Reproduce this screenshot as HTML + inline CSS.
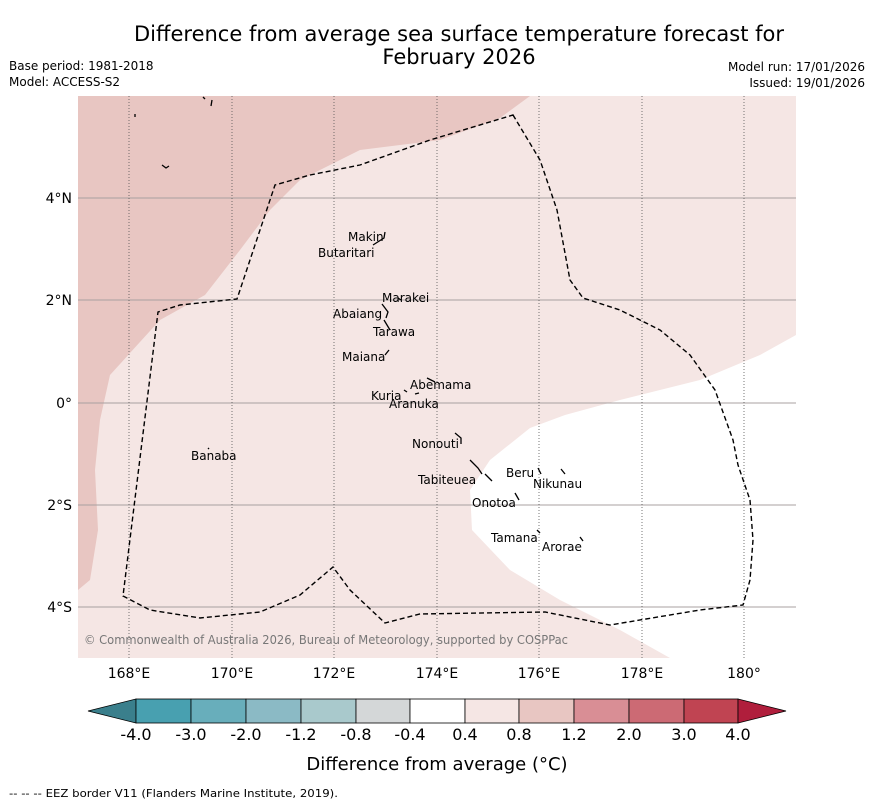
<!DOCTYPE html>
<html><head><meta charset="utf-8"><style>
body{margin:0;background:#fff;width:873px;height:804px;overflow:hidden;font-family:"Liberation Sans","DejaVu Sans",sans-serif}
</style></head><body>
<svg width="873" height="804" xmlns="http://www.w3.org/2000/svg" font-family="DejaVu Sans, Liberation Sans, sans-serif">
<text x="459" y="41" font-size="21" text-anchor="middle">Difference from average sea surface temperature forecast for</text>
<text x="459" y="64" font-size="21" text-anchor="middle">February 2026</text>
<text x="9" y="70" font-size="12">Base period: 1981-2018</text>
<text x="9" y="86" font-size="12">Model: ACCESS-S2</text>
<text x="865" y="71" font-size="12" text-anchor="end">Model run: 17/01/2026</text>
<text x="865" y="87" font-size="12" text-anchor="end">Issued: 19/01/2026</text>
<g>
<rect x="78" y="96" width="718" height="562" fill="#f5e6e4"/>
<path d="M78,96 L530,96 L500,118 L440,140 L360,150 L300,180 L270,210 L240,250 L205,295 L160,320 L110,375 L100,420 L95,470 L98,530 L90,580 L78,590 Z" fill="#e8c6c2"/>
<path d="M796,335 L760,355 L700,380 L620,400 L565,415 L530,428 L490,460 L470,490 L472,530 L510,570 L560,600 L620,630 L670,658 L796,658 Z" fill="#ffffff"/>
<g stroke="#a8a0a0" stroke-width="0.9">
<line x1="78" y1="198" x2="796" y2="198"/><line x1="78" y1="300" x2="796" y2="300"/><line x1="78" y1="403" x2="796" y2="403"/><line x1="78" y1="505" x2="796" y2="505"/><line x1="78" y1="607" x2="796" y2="607"/>
</g>
<g stroke="#555" stroke-width="0.8" stroke-dasharray="1,2">
<line x1="129" y1="96" x2="129" y2="658"/><line x1="232" y1="96" x2="232" y2="658"/><line x1="334" y1="96" x2="334" y2="658"/><line x1="437" y1="96" x2="437" y2="658"/><line x1="539" y1="96" x2="539" y2="658"/><line x1="642" y1="96" x2="642" y2="658"/><line x1="744" y1="96" x2="744" y2="658"/>
</g>
<path d="M513,115 L540,160 L557,210 L570,280 L583,298 L620,310 L660,330 L690,355 L715,390 L733,440 L738,465 L750,500 L753,540 L750,580 L743,605 L700,610 L610,625 L545,612 L420,614 L385,623 L350,590 L333,567 L300,595 L260,612 L200,618 L150,610 L123,596 L158,312 L180,305 L237,299 L275,185 L310,175 L360,165 L430,140 Z" fill="none" stroke="#000" stroke-width="1.4" stroke-dasharray="5,3"/>
<g stroke="#000" stroke-width="1.3" fill="none">
<path d="M373,245 L384,238 L385,232"/><path d="M382,304 L388,312 L386,318"/><path d="M384,320 L390,330"/><path d="M385,355 L389,350"/><path d="M427,378 L435,382"/><path d="M404,390 L407,392"/><path d="M415,394 L419,393"/><path d="M455,433 L461,438 L461,444"/><path d="M470,460 L478,468 L482,474"/><path d="M485,474 L492,481"/><path d="M538,468 L541,474"/><path d="M561,469 L565,474"/><path d="M515,493 L519,500"/><path d="M537,530 L540,533"/><path d="M580,537 L583,541"/><path d="M208,448 L209,449"/><path d="M203,97 L205,99"/><path d="M212,100 L211,106"/><path d="M135,114 L135,117"/><path d="M162,165 L166,168 L169,166"/><path d="M398,298 L401,300"/>
</g>
<g font-size="12" fill="#000">
<text x="348" y="241">Makin</text><text x="318" y="257">Butaritari</text><text x="382" y="302">Marakei</text><text x="333" y="318">Abaiang</text><text x="373" y="336">Tarawa</text><text x="342" y="361">Maiana</text><text x="410" y="389">Abemama</text><text x="371" y="400">Kuria</text><text x="389" y="408">Aranuka</text><text x="412" y="448">Nonouti</text><text x="191" y="460">Banaba</text><text x="506" y="477">Beru</text><text x="533" y="488">Nikunau</text><text x="418" y="484">Tabiteuea</text><text x="472" y="507">Onotoa</text><text x="491" y="542">Tamana</text><text x="542" y="551">Arorae</text>
</g>
<text x="84" y="644" font-size="12" fill="#777" textLength="484" lengthAdjust="spacingAndGlyphs">© Commonwealth of Australia 2026, Bureau of Meteorology, supported by COSPPac</text>
</g>
<g font-size="14" text-anchor="end">
<text x="72" y="203">4°N</text><text x="72" y="305">2°N</text><text x="72" y="408">0°</text><text x="72" y="510">2°S</text><text x="72" y="612">4°S</text>
</g>
<g font-size="14" text-anchor="middle">
<text x="129" y="678">168°E</text><text x="232" y="678">170°E</text><text x="334" y="678">172°E</text><text x="437" y="678">174°E</text><text x="539" y="678">176°E</text><text x="642" y="678">178°E</text><text x="744" y="678">180°</text>
</g>
<g stroke="#000" stroke-width="0.8">
<polygon points="88,711 136,699 136,723" fill="#3a7f8c"/>
<rect x="136" y="699" width="55" height="24" fill="#48a0b0"/>
<rect x="191" y="699" width="55" height="24" fill="#68aebb"/>
<rect x="246" y="699" width="55" height="24" fill="#8bbac5"/>
<rect x="301" y="699" width="55" height="24" fill="#a9c9cc"/>
<rect x="356" y="699" width="54" height="24" fill="#d4d7d8"/>
<rect x="410" y="699" width="55" height="24" fill="#ffffff"/>
<rect x="465" y="699" width="54" height="24" fill="#f5e6e4"/>
<rect x="519" y="699" width="55" height="24" fill="#e8c6c2"/>
<rect x="574" y="699" width="55" height="24" fill="#d98e95"/>
<rect x="629" y="699" width="55" height="24" fill="#cc6a74"/>
<rect x="684" y="699" width="54" height="24" fill="#c04452"/>
<polygon points="738,699 786,711 738,723" fill="#b01e3c"/>
</g>
<g font-size="16" text-anchor="middle">
<text x="136" y="740">-4.0</text><text x="191" y="740">-3.0</text><text x="246" y="740">-2.0</text><text x="301" y="740">-1.2</text><text x="356" y="740">-0.8</text><text x="410" y="740">-0.4</text><text x="465" y="740">0.4</text><text x="519" y="740">0.8</text><text x="574" y="740">1.2</text><text x="629" y="740">2.0</text><text x="684" y="740">3.0</text><text x="738" y="740">4.0</text>
</g>
<text x="437" y="770" font-size="18" text-anchor="middle">Difference from average (°C)</text>
<text x="9" y="797" font-size="11" textLength="329" lengthAdjust="spacingAndGlyphs">--  --  -- EEZ border V11 (Flanders Marine Institute, 2019).</text>
</svg>
</body></html>
